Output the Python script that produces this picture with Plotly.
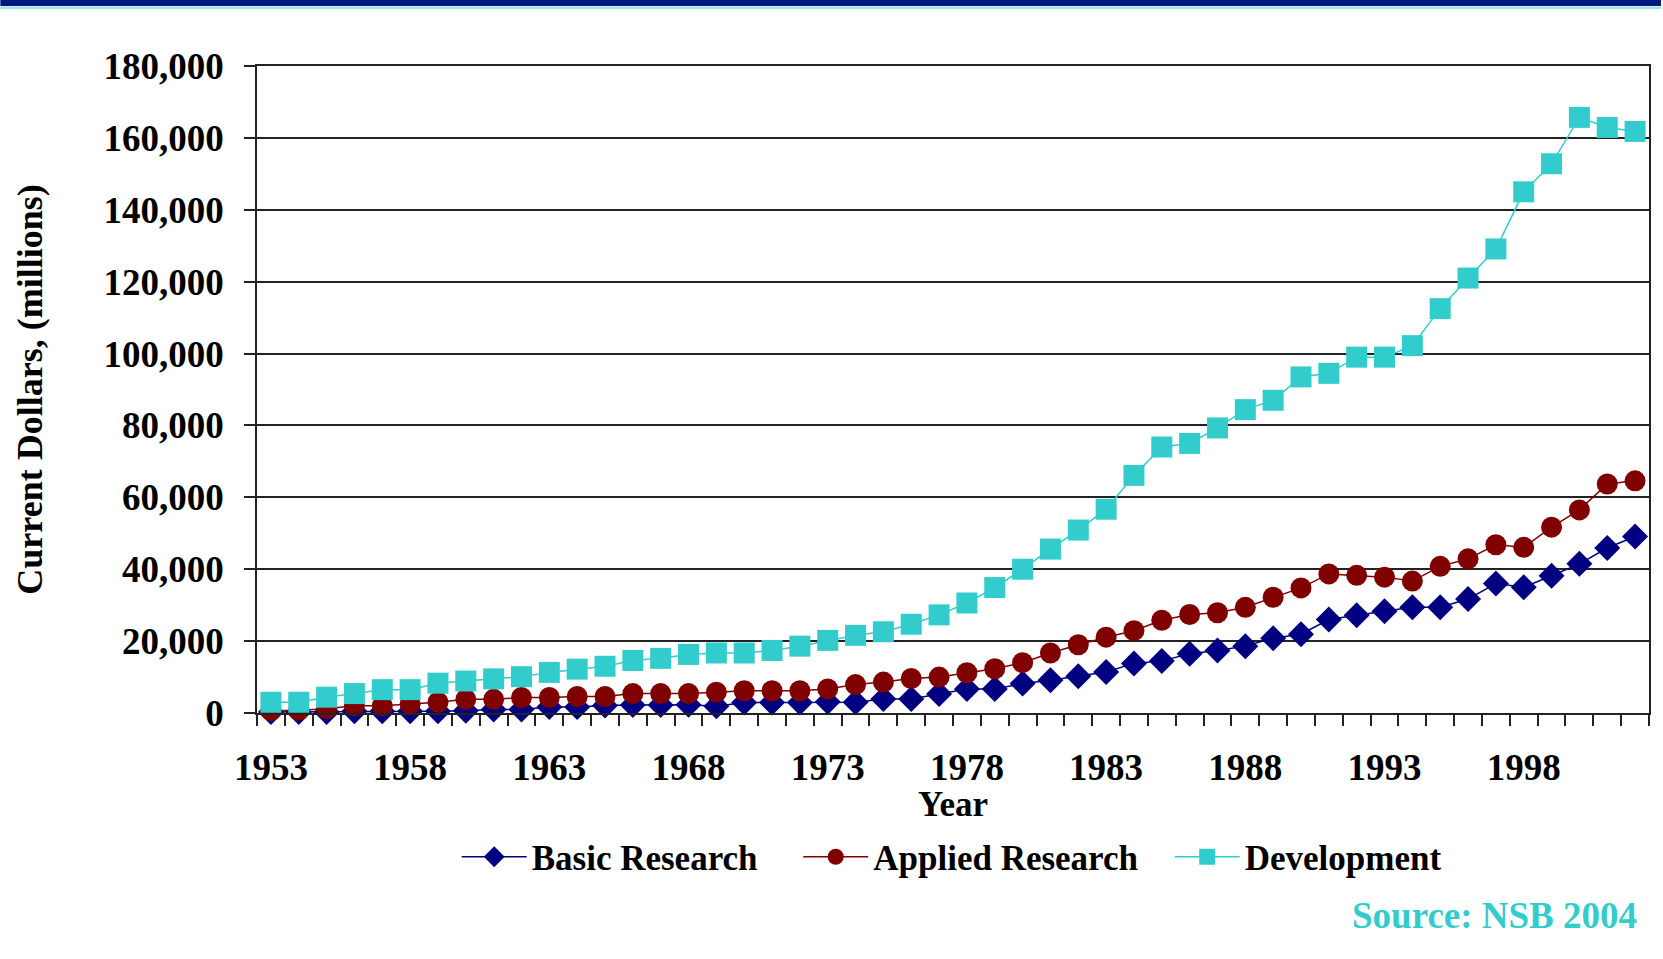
import plotly.graph_objects as go

years = [1953, 1954, 1955, 1956, 1957, 1958, 1959, 1960, 1961, 1962,
         1963, 1964, 1965, 1966, 1967, 1968, 1969, 1970, 1971, 1972,
         1973, 1974, 1975, 1976, 1977, 1978, 1979, 1980, 1981, 1982,
         1983, 1984, 1985, 1986, 1987, 1988, 1989, 1990, 1991, 1992,
         1993, 1994, 1995, 1996, 1997, 1998, 1999, 2000, 2001, 2002]

basic_research = [300, 300, 300, 500, 500, 500, 500, 600, 1000, 1000,
                  1700, 1700, 2100, 2200, 2200, 2300, 1900, 2900, 2900, 2900,
                  3100, 3000, 3900, 3900, 5300, 6700, 6700, 8200, 9100, 10200,
                  11400, 13800, 14500, 16500, 17400, 18600, 20800, 21900, 26000, 27200,
                  28300, 29400, 29400, 31700, 36000, 35000, 38200, 41500, 45900, 49100]

applied_research = [650, 750, 1200, 2000, 2000, 2450, 3000, 3800, 3800, 4300,
                    4300, 4600, 4600, 5400, 5400, 5400, 5800, 6200, 6200, 6200,
                    6700, 7900, 8600, 9600, 10000, 11200, 12300, 14000, 16700, 19000,
                    21100, 22900, 25800, 27400, 27900, 29400, 32200, 34800, 38700, 38300,
                    37800, 36700, 40800, 42900, 46800, 46100, 51700, 56500, 63700, 64600]

development = [3000, 3000, 4400, 5400, 6500, 6500, 8300, 8900, 9500, 10100,
               11300, 12200, 13000, 14600, 15200, 16300, 16700, 16700, 17400, 18600,
               20200, 21600, 22600, 24700, 27300, 30600, 34900, 40000, 45600, 50900,
               56700, 66100, 74000, 75000, 79300, 84400, 87000, 93500, 94500, 99000,
               99000, 102200, 112500, 121000, 129100, 145000, 152800, 165700, 162900, 161800]

x_tick_years = [1953, 1958, 1963, 1968, 1973, 1978, 1983, 1988, 1993, 1998]

FONT = "Liberation Serif"
NAVY = "#000080"
MAROON = "#800000"
TEAL = "#33CCCC"

fig = go.Figure()
fig.add_trace(go.Scatter(
    x=years, y=basic_research, name="Basic Research", mode="lines+markers",
    line=dict(color=NAVY, width=1.5),
    marker=dict(symbol="diamond", size=20, color=NAVY),
    cliponaxis=False, legend="legend", showlegend=True))
fig.add_trace(go.Scatter(
    x=years, y=applied_research, name="Applied Research", mode="lines+markers",
    line=dict(color=MAROON, width=1.5),
    marker=dict(symbol="circle", size=21, color=MAROON),
    cliponaxis=False, legend="legend2", showlegend=True))
fig.add_trace(go.Scatter(
    x=years, y=development, name="Development", mode="lines+markers",
    line=dict(color=TEAL, width=1.5),
    marker=dict(symbol="square", size=21, color=TEAL),
    cliponaxis=False, legend="legend3", showlegend=True))

L, R, T, B = 257, 1651, 66, 713
W, H = 1663, 959
PW, PH = R - L, B - T


def px(xp):
    return (xp - L) / PW


def py(yp):
    return (B - yp) / PH


def leg(xpix):
    return dict(orientation="h", x=px(xpix), xanchor="left", y=py(857), yanchor="middle",
                font=dict(family=FONT, size=35, color="black", weight="bold"),
                bgcolor="rgba(0,0,0,0)", itemwidth=65, borderwidth=0)


fig.update_layout(
    width=W, height=H,
    margin=dict(l=L, r=W - R, t=T, b=H - B),
    paper_bgcolor="white", plot_bgcolor="white",
    font=dict(family=FONT, color="black"),
    showlegend=True,
    legend=leg(457),
    legend2=leg(799),
    legend3=leg(1171),
    xaxis=dict(
        range=[1952.5, 2002.5], tickmode="array", tickvals=x_tick_years,
        ticktext=[str(v) for v in x_tick_years],
        ticks="", showgrid=False, zeroline=False,
        showline=True, linecolor="#222", linewidth=1.5, mirror=True,
        tickfont=dict(family=FONT, size=37, color="black", weight="bold"),
        ticklabelstandoff=21,
        minor=dict(tick0=1952.5, dtick=1, ticks="outside", ticklen=11, tickcolor="#222",
                   tickwidth=1.5, showgrid=False),
    ),
    yaxis=dict(
        range=[0, 180000], dtick=20000, tick0=0, tickformat=",",
        ticks="outside", ticklen=11, tickcolor="#222", tickwidth=1.5,
        showgrid=True, gridcolor="#222", gridwidth=1.5, zeroline=False,
        showline=True, linecolor="#222", linewidth=1.5, mirror=True,
        tickfont=dict(family=FONT, size=37, color="black", weight="bold"),
        ticklabelstandoff=13,
        title=dict(text="Current Dollars, (millions)",
                   font=dict(family=FONT, size=36, color="black", weight="bold"),
                   standoff=50),
    ),
    shapes=[
        dict(type="rect", xref="paper", yref="paper", x0=px(0), x1=px(W),
             y0=py(6), y1=py(0), fillcolor="#03187F", line=dict(width=0), layer="above"),
        dict(type="rect", xref="paper", yref="paper", x0=px(0), x1=px(W),
             y0=py(9), y1=py(6.5), fillcolor="#9FE3E3", line=dict(width=0), layer="above"),
    ],
    annotations=[
        dict(text="Year", xref="paper", yref="paper", x=0.5, y=py(804),
             xanchor="center", yanchor="middle", showarrow=False,
             font=dict(family=FONT, size=35, color="black", weight="bold")),
        dict(text="Source: NSB 2004", xref="paper", yref="paper", x=px(1641), y=py(916),
             xanchor="right", yanchor="middle", showarrow=False,
             font=dict(family=FONT, size=37, color=TEAL, weight="bold")),
    ],
)

fig.write_html("out.html", config={"displayModeBar": False},
               post_script="document.body.style.margin='0px';")
